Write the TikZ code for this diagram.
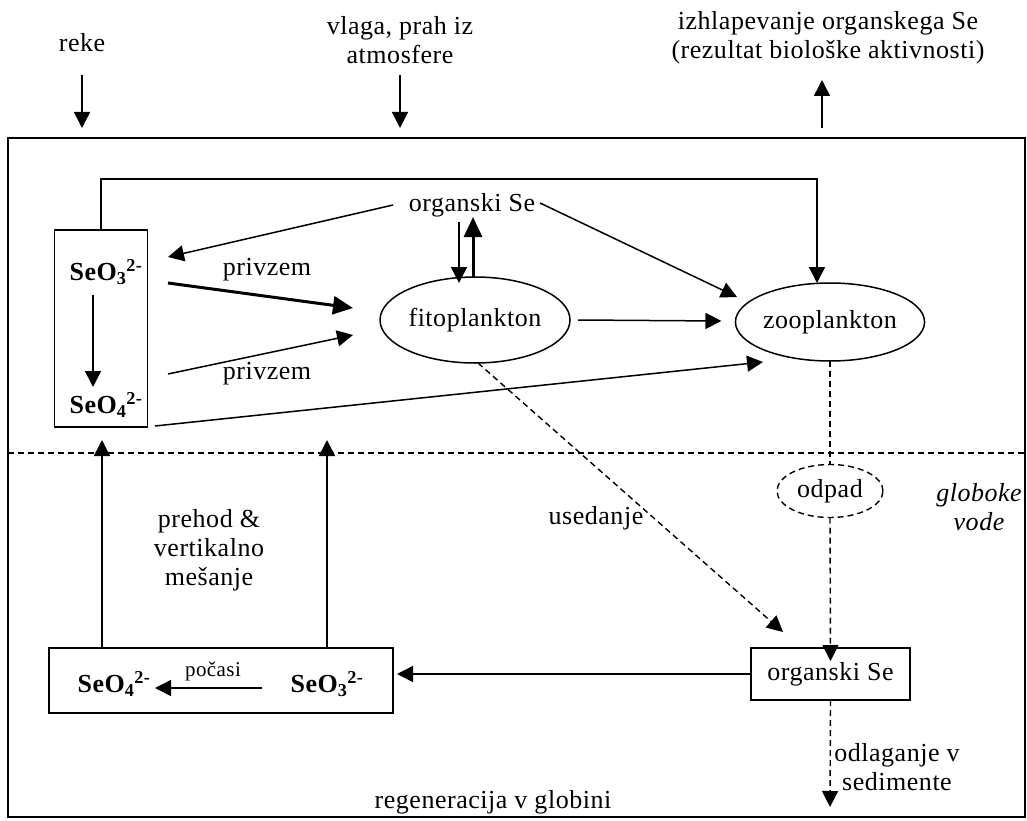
\documentclass[tikz,border=0pt]{standalone}
\usepackage{fontspec}
\setmainfont{Liberation Serif}[LetterSpace=2]
\usetikzlibrary{arrows.meta,shapes.geometric}
\newcommand\fsmain{\fontsize{26}{29}\selectfont}
\newcommand\fssmall{\fontsize{21}{24}\selectfont}
\tikzset{
  every node/.style={font=\fsmain, inner sep=0pt, outer sep=0pt},
  arr/.style={line width=1.5pt, -{Triangle[length=16pt,width=16pt]}},
  thickarr/.style={line width=3pt, -{Triangle[length=20pt,width=18pt]}},
  dsh/.style={line width=1.4pt, dash pattern=on 6pt off 4pt},
  darr/.style={dsh, -{Triangle[length=16pt,width=16pt]}},
  boxnode/.style={draw, line width=1.5pt, rectangle},
  ell/.style={draw, line width=1.5pt, ellipse},
}
\newcommand\seiii{\textbf{SeO\textsubscript{3}\textsuperscript{2-}}}
\newcommand\seiv{\textbf{SeO\textsubscript{4}\textsuperscript{2-}}}
\begin{document}
\begin{tikzpicture}[x=1pt,y=-1pt]
\useasboundingbox (0,0) rectangle (1027,821);
% frame and layer line
\draw[line width=1.6pt] (8,138) rectangle (1025,817);
\draw[dsh, line width=1.6pt] (8,453) -- (1025,453);

% top labels
\node (reke) at (82,43) {reke};
\node[align=center] (vlaga) at (400,40) {vlaga, prah iz\\atmosfere};
\node[align=center] (izhl) at (828,38) {izhlapevanje organskega Se\\(rezultat biološke aktivnosti)};
\coordinate (rekeA) at (82,75);   \coordinate (rekeB) at (82,128);
\coordinate (vlagaA) at (400,75); \coordinate (vlagaB) at (400,128);
\coordinate (izhlA) at (822,128); \coordinate (izhlB) at (822,80);
\draw[arr] (rekeA) -- (rekeB);
\draw[arr] (vlagaA) -- (vlagaB);
\draw[arr] (izhlA) -- (izhlB);

% upper left box
\node[boxnode, minimum width=93pt, minimum height=197pt] (lbox) at (101,328.5) {};
\node (s3t) at (106,272) {\seiii};
\node (s4t) at (106,405) {\seiv};
\coordinate (inA) at (93,295); \coordinate (inB) at (93,387);
\draw[arr] (inA) -- (inB);

% ellipses
\node[ell, minimum width=190pt, minimum height=86pt] (fito) at (475,320) {fitoplankton};
\node[ell, minimum width=186pt, minimum height=78pt] (zoo) at (830,322) {zooplankton};
\node (orgT) at (472,205) {organski Se};

% privzem arrows
\coordinate (p1s) at (168,283); \coordinate (p1e) at (353,308);
\coordinate (p2s) at (168,374); \coordinate (p2e) at (353,335);
\draw[thickarr] (p1s) -- (p1e);
\draw[arr] (p2s) -- (p2e);
\node (pv1) at (267,270) {privzem};
\node (pv2) at (267,374) {privzem};

% organski Se (top) connections
\coordinate (oL) at (393,205); \coordinate (oLe) at (168,257);
\draw[arr] (oL) -- (oLe);
\draw[arr] (459,0 |- orgT.south) ++(0,5) -- (459,283);
\draw[thickarr] (473,277) -- (473,217);
\coordinate (oR) at (540,203); \coordinate (oRe) at (737,297);
\draw[arr] (oR) -- (oRe);

% fito -> zoo
\draw[arr] ([xshift=8pt]fito.east) -- ([xshift=-14pt,yshift=1pt]zoo.west);

% long connector from box top to zoo
\coordinate (corner) at (817,179);
\draw[arr] (lbox.north) |- (corner) -- (817,283);

% box bottom -> zoo
\coordinate (lbR) at (155,426); \coordinate (zooL) at (763,362);
\draw[arr] (lbR) -- (zooL);

% dashed: zoo -> odpad -> organski Se
\node[ell, dsh, minimum width=106pt, minimum height=53pt] (odpad) at (830,491) {odpad};
\draw[dsh] (zoo.south) -- (odpad.north);
\node[boxnode, minimum width=159pt, minimum height=52pt] (orgB) at (830.5,674) {organski Se};
\draw[darr] (odpad.south) -- ([yshift=-13pt]orgB.north);

% usedanje
\coordinate (useEnd) at (783,632);
\draw[darr] ([xshift=3pt]fito.south) -- (useEnd);
\node (used) at (596,518) {usedanje};

% globoke vode
\node[align=center, font=\fsmain\itshape] (glob) at (979,507) {globoke\\vode};

% lower left box
\node[boxnode, minimum width=344pt, minimum height=65pt] (bbox) at (221,680.5) {};
\node (s4b) at (114,684) {\seiv};
\node (s3b) at (327,684) {\seiii};
\coordinate (pcA) at (262,688); \coordinate (pcB) at (155,688);
\draw[arr] (pcA) -- (pcB);
\node[font=\fssmall] (pocasi) at (213,671) {počasi};

% orgB -> bbox
\draw[arr] (orgB.west) -- (397,0 |- orgB.west);

% upward arrows
\draw[arr] (102,0 |- bbox.north) -- (102,440);
\draw[arr] (327,0 |- bbox.north) -- (327,440);
\node[align=center] (prehod) at (209,550) {prehod \&\\vertikalno\\mešanje};

% odlaganje
\draw[darr] (orgB.south) -- (830,807);
\node[align=center] (odl) at (897,767) {odlaganje v\\sedimente};

\node (regen) at (493,802) {regeneracija v globini};
\end{tikzpicture}
\end{document}
